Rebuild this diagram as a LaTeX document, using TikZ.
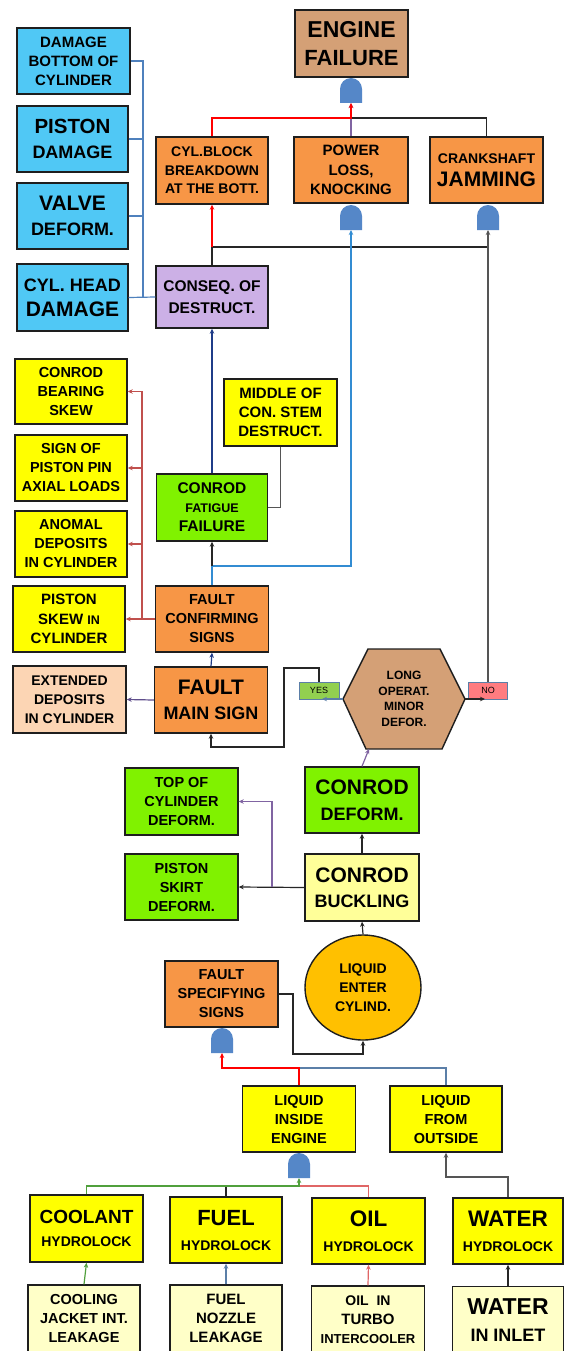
\documentclass[tikz,border=0pt]{standalone}
\usepackage{fontspec}
\setmainfont{Liberation Sans}
\usetikzlibrary{arrows.meta,shapes.geometric}
\definecolor{bline}{RGB}{30,30,30}
\definecolor{ccyan}{RGB}{80,200,245}
\definecolor{cor}{RGB}{247,150,70}
\definecolor{ctan}{RGB}{212,160,118}
\definecolor{clav}{RGB}{204,176,230}
\definecolor{cyel}{RGB}{255,255,0}
\definecolor{cgreen}{RGB}{128,242,0}
\definecolor{clyel}{RGB}{255,255,153}
\definecolor{cpale}{RGB}{255,255,200}
\definecolor{cpeach}{RGB}{252,213,180}
\definecolor{cgold}{RGB}{255,192,0}
\definecolor{cgate}{RGB}{85,135,200}
\definecolor{cyesg}{RGB}{146,208,80}
\definecolor{cnored}{RGB}{255,124,128}
\definecolor{cflagl}{RGB}{91,127,168}
\definecolor{lblue}{RGB}{79,129,189}
\definecolor{lred}{RGB}{255,0,0}
\definecolor{lpurple}{RGB}{128,100,162}
\definecolor{llblue}{RGB}{50,140,210}
\definecolor{lnavy}{RGB}{31,60,136}
\definecolor{lired}{RGB}{192,80,77}
\definecolor{lpgrey}{RGB}{95,78,140}
\definecolor{lgrey}{RGB}{85,85,85}
\definecolor{lgreen}{RGB}{80,160,60}
\definecolor{lsteel}{RGB}{91,127,168}
\definecolor{llred}{RGB}{224,102,102}
\newcommand\fz[2]{\fontsize{#1}{#2}\selectfont\bfseries}
\tikzset{
  box/.style={draw=bline,line width=1.4pt,inner sep=1pt,align=center,minimum width=113pt,minimum height=66pt,text=black},
  flag/.style={draw=cflagl,line width=0.8pt,inner sep=0pt,minimum width=40pt,minimum height=17pt,font=\fontsize{9}{10}\selectfont},
  conn/.style={line width=1.2pt},
  arr/.style={-{Stealth[length=5pt,width=4.5pt]}},
  cblue/.style={conn,lblue},
  cred/.style={conn,lred},
  cpurple/.style={conn,lpurple},
  clblue/.style={conn,llblue},
  cnavy/.style={conn,lnavy},
  cired/.style={conn,lired},
  cpgrey/.style={conn,lpgrey},
  cgrey/.style={conn,lgrey},
  cblack/.style={conn,black!85},
  cgreen2/.style={conn,lgreen},
  csteel/.style={conn,lsteel},
  clred/.style={conn,llred},
  cflag/.style={conn,lsteel},
  andgate/.pic={\fill[cgate] (-11,14) -- (-11,0) arc[start angle=180,end angle=360,radius=11] -- (11,14) -- cycle; \coordinate (-in) at (0,14);}
}
\begin{document}
\begin{tikzpicture}[x=1pt,y=-1pt]
\clip (0,0) rectangle (564,1351);
\fill[white] (0,0) rectangle (564,1351);

% top part
\node[box,fill=ctan,minimum height=67pt,font=\fz{22}{28}] (eng) at (351.5,43.5) {{\fz{23}{28}ENGINE}\\FAILURE};
\node[box,fill=ccyan,font=\fz{15}{19}] (dmgbot) at (73.5,61) {DAMAGE\\BOTTOM OF\\CYLINDER};
\node[box,fill=ccyan,minimum width=111pt,font=\fz{18}{25}] (pdmg) at (72.5,139) {{\fz{20.5}{25}PISTON}\\DAMAGE};
\node[box,fill=ccyan,minimum width=111pt,font=\fz{18}{25}] (valve) at (72.5,216) {{\fz{21}{25}VALVE}\\DEFORM.};
\node[box,fill=ccyan,minimum width=111pt,minimum height=67pt,font=\fz{21}{25}] (chead) at (72.5,297.5) {{\fz{18}{25}CYL. HEAD}\\DAMAGE};
\node[box,fill=cor,minimum width=112pt,minimum height=67pt,font=\fz{14}{18.5}] (cblock) at (212,170.5) {CYL.BLOCK\\BREAKDOWN\\AT THE BOTT.};
\node[box,fill=cor,minimum width=114pt,font=\fz{15}{19.5}] (power) at (351,170) {POWER\\LOSS,\\KNOCKING};
\node[box,fill=cor,font=\fz{21}{23}] (crank) at (486.5,170) {{\fz{14}{23}CRANKSHAFT}\\JAMMING};
\node[box,fill=clav,minimum width=112pt,minimum height=62pt,font=\fz{15.5}{22}] (conseq) at (212,297) {CONSEQ. OF\\DESTRUCT.};

% middle part
\node[box,fill=cyel,minimum width=112pt,minimum height=65pt,font=\fz{14.5}{19}] (bearing) at (71,391.5) {CONROD\\BEARING\\SKEW};
\node[box,fill=cyel,minimum height=67pt,font=\fz{15}{19}] (middle) at (280.5,412.5) {MIDDLE OF\\CON. STEM\\DESTRUCT.};
\node[box,fill=cyel,minimum width=112pt,font=\fz{14.5}{19}] (signpin) at (71,468) {SIGN OF\\PISTON PIN\\AXIAL LOADS};
\node[box,fill=cgreen,minimum width=111pt,minimum height=67pt,font=\fz{15.5}{19}] (fatigue) at (212,507.5) {CONROD\\{\fz{12.5}{19}FATIGUE}\\FAILURE};
\node[box,fill=cyel,minimum width=112pt,font=\fz{14.5}{19}] (anomal) at (71,544) {ANOMAL\\DEPOSITS\\IN CYLINDER};
\node[box,fill=cyel,minimum width=112pt,font=\fz{15}{19.5}] (pskew) at (69,619) {PISTON\\SKEW {\fz{12.5}{19.5}IN}\\CYLINDER};
\node[box,fill=cor,font=\fz{14.5}{19}] (confirm) at (212,619) {FAULT\\CONFIRMING\\SIGNS};
\node[box,fill=cpeach,minimum height=67pt,font=\fz{14}{19}] (ext) at (69.5,699.5) {EXTENDED\\DEPOSITS\\IN CYLINDER};
\node[box,fill=cor,font=\fz{18}{25}] (mainsign) at (211,700) {{\fz{21}{25}FAULT}\\MAIN SIGN};

\filldraw[fill=ctan,draw=bline,line width=1.4pt] (343,699) -- (368,649) -- (440,649) -- (465,699) -- (442,749) -- (366,749) -- cycle;
\node[minimum width=122pt,minimum height=100pt,inner sep=0pt,align=center,font=\fz{12}{15.5}] (hex) at (404,699) {LONG\\OPERAT.\\MINOR\\DEFOR.};
\node[flag,fill=cyesg] (yes) at (319,690.5) {YES};
\node[flag,fill=cnored,minimum width=39pt] (no) at (488,690.5) {NO};

\node[box,fill=cgreen,minimum height=67pt,font=\fz{14.5}{19}] (topcyl) at (181.5,801.5) {TOP OF\\CYLINDER\\DEFORM.};
\node[box,fill=cgreen,minimum width=114pt,font=\fz{18}{26}] (cdeform) at (362,800) {{\fz{21}{26}CONROD}\\DEFORM.};
\node[box,fill=cgreen,font=\fz{14.5}{19}] (skirt) at (181.5,887) {PISTON\\SKIRT\\DEFORM.};
\node[box,fill=clyel,minimum width=114pt,minimum height=67pt,font=\fz{18}{25}] (buck) at (362,887.5) {{\fz{21}{25}CONROD}\\BUCKLING};
\node[ellipse,draw=bline,line width=1.4pt,fill=cgold,minimum width=116pt,minimum height=105pt,inner sep=0pt,align=center,font=\fz{14}{19}] (liq) at (363,987.5) {LIQUID\\ENTER\\CYLIND.};
\node[box,fill=cor,font=\fz{14.5}{19}] (spec) at (221.5,994) {FAULT\\SPECIFYING\\SIGNS};

% bottom part
\node[box,fill=cyel,font=\fz{14.5}{19}] (inside) at (299,1119) {LIQUID\\INSIDE\\ENGINE};
\node[box,fill=cyel,minimum width=112pt,font=\fz{14.5}{19}] (outside) at (446,1119) {LIQUID\\FROM\\OUTSIDE};
\node[box,fill=cyel,minimum height=67pt,font=\fz{14}{23}] (coolant) at (86.5,1228.5) {{\fz{19}{23}COOLANT}\\HYDROLOCK};
\node[box,fill=cyel,minimum width=112pt,font=\fz{14}{25}] (fuel) at (226,1230) {{\fz{22}{25}FUEL}\\HYDROLOCK};
\node[box,fill=cyel,font=\fz{14}{25}] (oil) at (368.5,1231) {{\fz{22.5}{25}OIL}\\HYDROLOCK};
\node[box,fill=cyel,minimum width=110pt,font=\fz{14}{25}] (water) at (508,1231) {{\fz{22.5}{25}WATER}\\HYDROLOCK};
\node[box,fill=cpale,minimum width=112pt,minimum height=67pt,font=\fz{14.5}{19}] (cooling) at (84,1318.5) {COOLING\\JACKET INT.\\LEAKAGE};
\node[box,fill=cpale,minimum width=112pt,minimum height=67pt,font=\fz{15}{19}] (nozzle) at (226,1318.5) {FUEL\\NOZZLE\\LEAKAGE};
\node[box,fill=cpale,minimum height=67pt,font=\fz{15}{19}] (turbo) at (368,1319.5) {{\fz{14}{19}OIL~~IN}\\TURBO\\{\fz{13}{19}INTERCOOLER}};
\node[box,fill=cpale,minimum width=111pt,minimum height=67pt,font=\fz{18}{27}] (inlet) at (508,1320) {{\fz{23}{27}WATER}\\IN INLET};

% gates
\pic (gE) at (351,89) {andgate};
\pic (gP) at (351,216) {andgate};
\pic (gK) at (488,216) {andgate};
\pic (gS) at (222,1039) {andgate};
\pic (gL) at (299,1164) {andgate};

% connectors top
\coordinate (jB) at (143,297.5);
\draw[cblue] (dmgbot.east) -| (jB);
\draw[cblue] (pdmg.east) -- (pdmg.east -| jB);
\draw[cblue] (valve.east) -- (valve.east -| jB);
\draw[cblue] (chead.east) -- (conseq.west);

\coordinate (jE) at (351,118);
\draw[cpurple,arr] (power.north) -- (gE-in);
\draw[cblack] (crank.north) |- (jE);
\draw[cred,arr] (cblock.north) |- (jE) -- (gE-in);

\coordinate (jC) at (212,247);
\coordinate (jK) at (488,247);
\draw[cblack] (conseq.north) -- (jC) -- (jK);
\draw[cred,arr] (jC) -- (cblock.south);
\draw[cgrey,arr] (no.north) -- (gK-in);

\coordinate (jF) at (212,566);
\draw[clblue,arr] (confirm.north) -- (jF) -| (gP-in);
\draw[cblack,arr] (jF) -- (fatigue.south);
\draw[cnavy,arr] (fatigue.north) -- (conseq.south);
\draw[cgrey] (middle.south) |- (fatigue.east);

\coordinate (jR) at (142,619);
\draw[cired,arr] (confirm.west) -- (pskew.east);
\draw[cired,arr] (jR) |- (bearing.east);
\draw[cired,arr] (jR) |- (signpin.east);
\draw[cired,arr] (jR) |- (anomal.east);
\draw[cnavy,arr] (mainsign.north) -- (confirm.south);
\draw[cpgrey,arr] (mainsign.west) -- (ext.east);

\coordinate (yesend) at (322,699);
\coordinate (noend) at (485,699);
\draw[cflag,arr] (hex.west) -- (yesend);
\draw[cblack,arr] (hex.east) -- (noend);
\coordinate (jY1) at (284,668);
\coordinate (jY2) at (284,747);
\draw[cblack,arr] (yes.north) |- (jY1) -- (jY2) -| (mainsign.south);

\coordinate (hexb) at (369,749);
\draw[cpurple,arr] (cdeform.north) -- (hexb);
\draw[cblack,arr] (buck.north) -- (cdeform.south);
\draw[cblack,arr] (buck.west) -- (skirt.east);
\coordinate (jP) at (272,887);
\draw[cpurple,arr] (jP) |- (topcyl.east);
\draw[cblack,arr] (liq.north) -- (buck.south);

\coordinate (jS1) at (293,994);
\coordinate (jS2) at (293,1054);
\draw[cblack,arr] (spec.east) -- (jS1) -- (jS2) -| (liq.south);
\coordinate (jL) at (222,1068);
\coordinate (jL2) at (299,1068);
\draw[csteel] (outside.north) |- (jL2);
\draw[cred,arr] (inside.north) -- (jL2) -- (jL) -- (gS-in);

\coordinate (jQ) at (299,1186);
\draw[cblack] (fuel.north) |- (jQ);
\draw[clred] (oil.north) |- (jQ);
\draw[cgreen2,arr] (coolant.north) |- (jQ) -- (gL-in);
\coordinate (jW) at (446,1177);
\draw[cgrey,arr] (water.north) |- (jW) -- (outside.south);
\draw[cgreen2,arr] (cooling.north) -- (coolant.south);
\draw[csteel,arr] (nozzle.north) -- (fuel.south);
\draw[clred,arr] (turbo.north) -- (oil.south);
\draw[cblack,arr] (inlet.north) -- (water.south);
\end{tikzpicture}
\end{document}
